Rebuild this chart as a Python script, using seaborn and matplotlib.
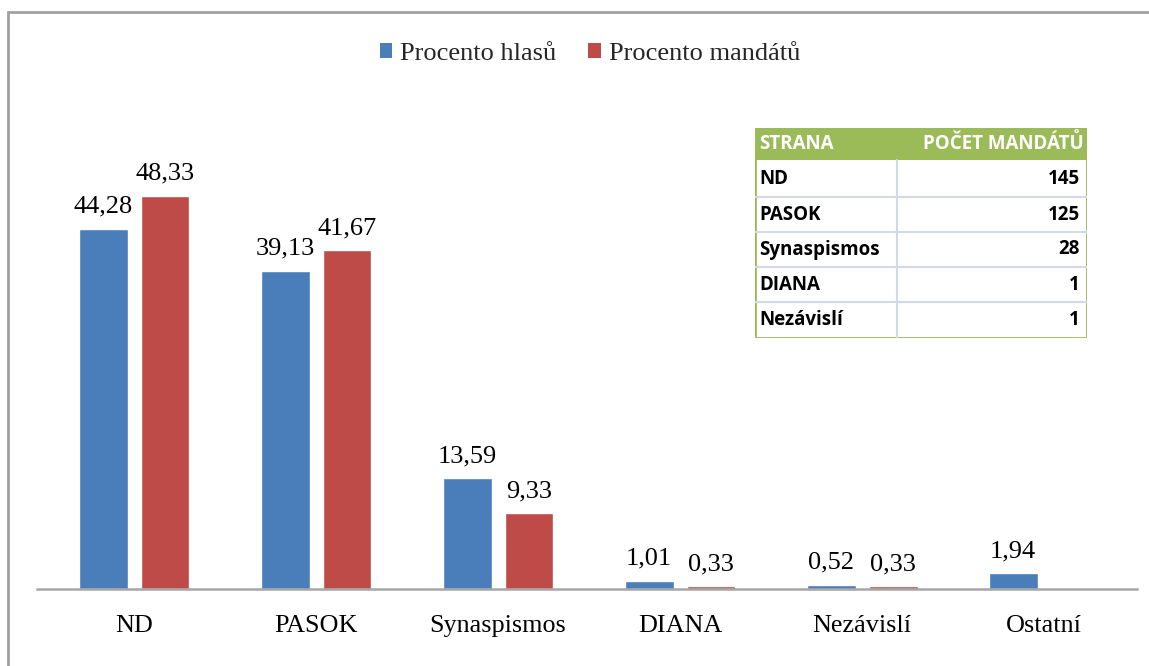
import numpy as np
import pandas as pd
import matplotlib
matplotlib.use("Agg")
import matplotlib.pyplot as plt
from matplotlib.patches import Rectangle, Patch
import seaborn as sns

# ---- data ----
categories = ["ND", "PASOK", "Synaspismos", "DIANA", "Nezávislí", "Ostatní"]
pct_votes = [44.28, 39.13, 13.59, 1.01, 0.52, 1.94]
pct_seats = [48.33, 41.67, 9.33, 0.33, 0.33, np.nan]
series_names = ["Procento hlasů", "Procento mandátů"]
table_header = ["STRANA", "POČET MANDÁTŮ"]
table_parties = ["ND", "PASOK", "Synaspismos", "DIANA", "Nezávislí"]
table_seats = [145, 125, 28, 1, 1]

colors = ["#4A7EBB", "#BE4B48"]

df = pd.DataFrame({
    "strana": categories * 2,
    "serie": [series_names[0]] * len(categories) + [series_names[1]] * len(categories),
    "hodnota": pct_votes + pct_seats,
})

sns.set_theme(style="white")
plt.rcParams["font.family"] = ["Liberation Serif", "DejaVu Serif"]

W, H = 1149, 666
fig = plt.figure(figsize=(W / 100, H / 100), dpi=100)

# axes: x from 37 to 1137 px, baseline at 589 px, top at 101 px
ax_left, ax_right = 37, 1137
ax_bottom, ax_top = 589, 101
ax = fig.add_axes([ax_left / W, 1 - ax_bottom / H, (ax_right - ax_left) / W, (ax_bottom - ax_top) / H])

sns.barplot(data=df, x="strana", y="hodnota", hue="serie", order=categories,
            hue_order=series_names, palette=colors, width=0.68, gap=0.21,
            saturation=1, ax=ax, legend=False)

ax.set_ylim(0, 60)
ax.set_xlim(-0.533, 5.51)
ax.set_xlabel("")
ax.set_ylabel("")
ax.set_yticks([])
ax.tick_params(axis="x", length=0, pad=19, labelsize=18.8, colors="black")
for s in ["top", "left", "right"]:
    ax.spines[s].set_visible(False)
ax.spines["bottom"].set_color("#A6A6A6")
ax.spines["bottom"].set_linewidth(1.8)
ax.set_facecolor("none")

for cont in ax.containers:
    labels = ["" if (v is None or np.isnan(v)) else f"{v:.2f}".replace(".", ",") for v in cont.datavalues]
    ax.bar_label(cont, labels=labels, padding=8, fontsize=19, color="black")

# legend
handles = [Patch(facecolor=c, edgecolor="none") for c in colors]
fig.legend(handles, series_names, loc="center", bbox_to_anchor=(590 / W, 1 - 54 / H),
           ncol=2, frameon=False, fontsize=19, handlelength=0.48, handleheight=0.48,
           handletextpad=0.3, columnspacing=1.2)

# figure border
fig.add_artist(Rectangle((8 / W, -0.1), 1.2, 1 - 12 / H + 0.1, transform=fig.transFigure,
                         fill=False, edgecolor="#A0A0A0", linewidth=2))

# table
tx0, tx1, ty0, ty1 = 755, 1087, 128, 338
tax = fig.add_axes([tx0 / W, 1 - ty1 / H, (tx1 - tx0) / W, (ty1 - ty0) / H])
tax.set_xlim(tx0, tx1)
tax.set_ylim(ty1, ty0)
tax.axis("off")
green = "#9BBB59"
row_edges = [128, 160, 197, 232, 267, 302, 338]
tax.add_patch(Rectangle((tx0, ty0), tx1 - tx0, row_edges[1] - ty0, facecolor=green, edgecolor="none"))
for y in row_edges[2:-1]:
    tax.plot([tx0, tx1], [y, y], color="#D3DAE6", lw=1.5)
tax.plot([897, 897], [row_edges[1], ty1], color="#D3DAE6", lw=1.5)
tax.add_patch(Rectangle((tx0, ty0), tx1 - tx0, ty1 - ty0, fill=False, edgecolor=green, lw=2))
tfont = dict(family=["Open Sans", "DejaVu Sans"], fontweight="bold", fontsize=13.5)
tax.text(759, (row_edges[0] + row_edges[1]) / 2, table_header[0], color="white", va="center", ha="left", **tfont)
tax.text(1084, (row_edges[0] + row_edges[1]) / 2, table_header[1], color="white", va="center", ha="right", **tfont)
for i, (p, s) in enumerate(zip(table_parties, table_seats)):
    yc = (row_edges[i + 1] + row_edges[i + 2]) / 2
    tax.text(759, yc, p, color="black", va="center", ha="left", **tfont)
    tax.text(1080, yc, str(s), color="black", va="center", ha="right", **tfont)

fig.savefig("out.png", dpi=100, facecolor="white")
